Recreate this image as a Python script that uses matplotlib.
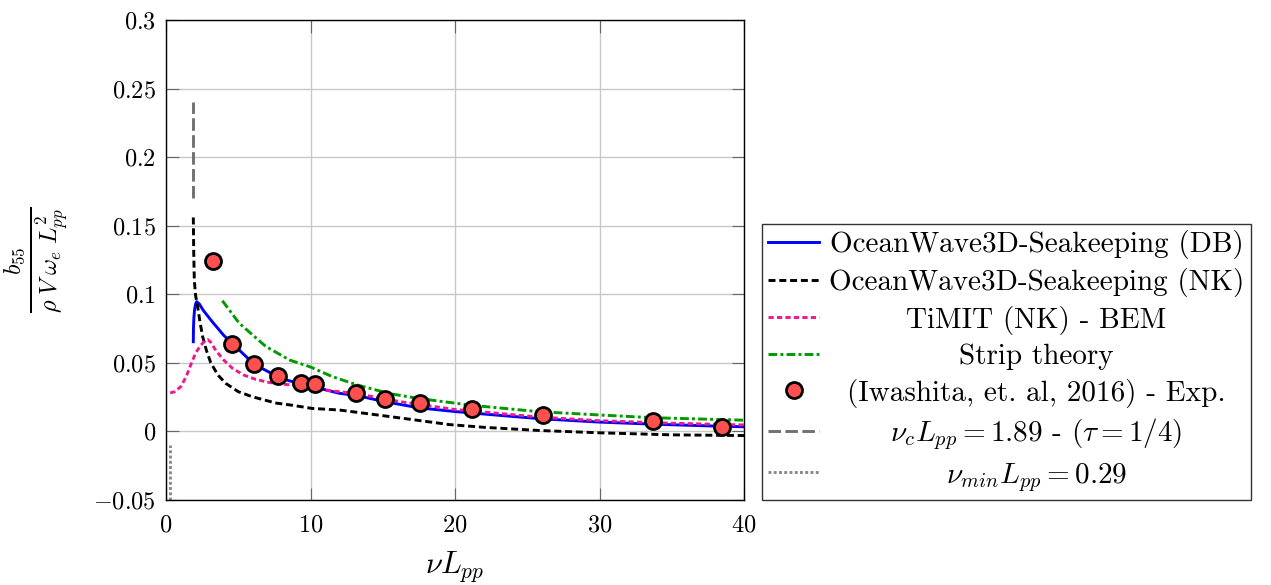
import matplotlib
matplotlib.use('Agg')
import matplotlib.pyplot as plt
from matplotlib.transforms import Affine2D

plt.rcParams['font.family'] = 'serif'
plt.rcParams['font.serif'] = ['cmr10']
plt.rcParams['mathtext.fontset'] = 'cm'
plt.rcParams['axes.unicode_minus'] = True

# OceanWave3D-Seakeeping, double-body flow
x_db = [1.89, 1.90, 1.93, 1.98, 2.05, 2.12, 2.3, 2.6, 3.2, 4.0, 4.6, 5.2, 6.1, 7.0,
        7.7, 8.5, 9.3, 10.4, 12.0, 13.2, 15.0, 17.5, 20.0, 23.0, 26.0, 30.0, 34.0,
        38.0, 40.0]
y_db = [0.0654, 0.075, 0.083, 0.089, 0.093, 0.0946, 0.093, 0.088, 0.080, 0.070,
        0.064, 0.058, 0.049, 0.044, 0.040, 0.037, 0.035, 0.032, 0.0278, 0.0262,
        0.022, 0.0172, 0.0145, 0.0118, 0.0092, 0.0068, 0.0052, 0.0039, 0.0034]

# OceanWave3D-Seakeeping, Neumann-Kelvin
x_nk = [1.89, 1.92, 1.96, 2.05, 2.19, 2.35, 2.54, 2.8, 3.1, 3.6, 4.14, 5.0, 5.97,
        7.6, 8.6, 10.1, 12.0, 15.0, 17.5, 19.6, 22.0, 25.8, 30.0, 35.0, 40.0]
y_nk = [0.156, 0.130, 0.110, 0.099, 0.091, 0.080, 0.069, 0.059, 0.050, 0.041,
        0.035, 0.029, 0.0253, 0.0207, 0.0193, 0.0168, 0.0156, 0.0115, 0.008,
        0.005, 0.003, 0.0007, -0.001, -0.0025, -0.003]

# TiMIT BEM
x_timit = [0.29, 0.6, 1.02, 1.4, 1.84, 2.1, 2.42, 2.7, 2.88, 3.1, 3.45, 4.0, 4.6,
           5.4, 6.2, 7.0, 7.8, 8.6, 9.9, 12.0, 13.2, 16.2, 20.0, 25.8, 30.0,
           35.0, 40.0]
y_timit = [0.028, 0.029, 0.0326, 0.040, 0.052, 0.058, 0.063, 0.066, 0.067, 0.065,
           0.059, 0.052, 0.046, 0.041, 0.038, 0.036, 0.0346, 0.034, 0.0314, 0.029,
           0.0275, 0.0217, 0.016, 0.0105, 0.0078, 0.006, 0.0047]

# strip theory
x_strip = [3.9, 5.06, 6.9, 8.57, 10.0, 11.5, 13.2, 15.5, 17.5, 21.2, 25.8, 30.0,
           33.7, 40.0]
y_strip = [0.0953, 0.079, 0.062, 0.052, 0.047, 0.040, 0.034, 0.0275, 0.024, 0.019,
           0.0144, 0.012, 0.010, 0.0082]

# Iwashita et al. (2016) experiments
x_exp = [3.27, 4.6, 6.1, 7.74, 9.33, 10.3, 13.15, 15.15, 17.6, 21.2, 26.1, 33.7, 38.5]
y_exp = [0.1245, 0.064, 0.049, 0.0407, 0.0356, 0.0346, 0.0282, 0.024, 0.0205,
         0.0163, 0.012, 0.0078, 0.0034]

# critical and minimum frequencies
nu_c = 1.89
nu_c_span = [0.17, 0.24]
nu_min = 0.29
nu_min_span = [-0.05, -0.01]

x_ticks = [0, 10, 20, 30, 40]
y_ticks = [-0.05, 0, 0.05, 0.1, 0.15, 0.2, 0.25, 0.3]
y_tick_labels = [r'$-0.05$', r'$0$', r'$0.05$', r'$0.1$', r'$0.15$', r'$0.2$',
                 r'$0.25$', r'$0.3$']
x_tick_labels = [r'$0$', r'$10$', r'$20$', r'$30$', r'$40$']

fig = plt.figure(figsize=(12.71, 5.85), dpi=100)
ax = fig.add_axes([166 / 1271, 85 / 585, 578 / 1271, 480 / 585])

ax.plot(x_db, y_db, color='#0000ff', lw=2.1, label='OceanWave3D-Seakeeping (DB)')
ax.plot(x_nk, y_nk, color='black', lw=2.1, dashes=(2.4, 1.3),
        label='OceanWave3D-Seakeeping (NK)')
ax.plot(x_timit, y_timit, color='#f0188c', lw=2.1, dashes=(1.8, 1.1),
        label='TiMIT (NK) - BEM')
ax.plot(x_strip, y_strip, color='#009900', lw=2.1, dashes=(3.0, 1.1, 1.0, 1.1),
        label='Strip theory')
ax.plot(x_exp, y_exp, ls='none', marker='o', ms=11.5, mfc='#ff5050', mec='black',
        mew=2.0, label='(Iwashita, et. al, 2016) - Exp.')
ax.plot([nu_c, nu_c], nu_c_span, color='#707070', lw=2.1, dashes=(4.3, 1.5),
        label=r'$\nu_c L_{pp} = 1.89$ - $(\tau = 1/4)$')
ax.plot([nu_min, nu_min], nu_min_span, color='#8a8a8a', lw=2.1, dashes=(1.0, 0.8),
        label=r'$\nu_{min} L_{pp} = 0.29$')

ax.set_xlim(0, 40)
ax.set_ylim(-0.05, 0.3)
ax.set_xticks(x_ticks)
ax.set_xticklabels(x_tick_labels)
ax.set_yticks(y_ticks)
ax.set_yticklabels(y_tick_labels)
ax.grid(True, color='#c8c8c8', lw=1.0)
ax.set_axisbelow(True)
ax.tick_params(direction='in', length=9, width=0.8, color='#666666',
               top=True, right=True, labelsize=17.5)
ax.tick_params(axis='x', pad=10)
ax.tick_params(axis='y', pad=7)
for s in ax.spines.values():
    s.set_linewidth(1.0)

ax.set_xlabel(r'$\nu L_{pp}$', fontsize=22, labelpad=9)
ax.set_ylabel(r'$\frac{b_{55}}{\rho\; V\; \omega_e\; L_{pp}^2}$', fontsize=25,
              labelpad=16)

leg = fig.legend(loc='lower left', bbox_to_anchor=(762 / 1271, 85 / 585),
                 borderaxespad=0, fontsize=21, frameon=True, fancybox=False,
                 edgecolor='black', handlelength=1.75, handletextpad=0.32,
                 labelspacing=0.3, borderpad=0.22)
leg.get_frame().set_linewidth(1.0)

# centre the legend labels on the widest one, as pgfplots does
fig.canvas.draw()
renderer = fig.canvas.get_renderer()
widths = [t.get_window_extent(renderer).width for t in leg.get_texts()]
wmax = max(widths)
for t, w in zip(leg.get_texts(), widths):
    t.set_transform(t.get_transform() + Affine2D().translate((wmax - w) / 2, 0))

fig.savefig('out.png', dpi=100)
